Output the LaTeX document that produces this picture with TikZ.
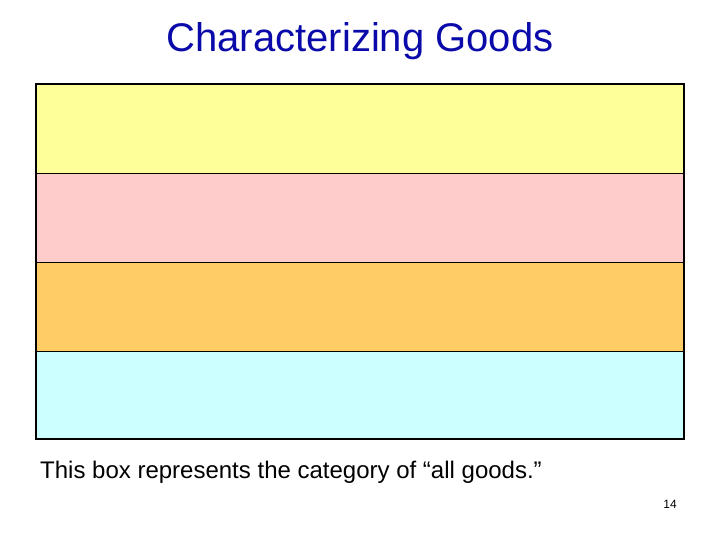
\documentclass[tikz,border=0pt]{standalone}
\usepackage{fontspec}
\setmainfont{Liberation Sans}
\definecolor{titleblue}{RGB}{10,10,170}
\definecolor{bandA}{RGB}{255,255,153}
\definecolor{bandB}{RGB}{255,204,204}
\definecolor{bandC}{RGB}{255,204,102}
\definecolor{bandD}{RGB}{204,255,255}
\begin{document}
\begin{tikzpicture}[x=1pt,y=-1pt,
  band/.style={draw=black,line width=0.8pt}]
\useasboundingbox (0,0) rectangle (720,540);
\fill[white] (0,0) rectangle (720,540);
\node[text=titleblue,font=\fontsize{40}{46}\selectfont,anchor=base,inner sep=0pt] (title) at (360,52) {Characterizing Goods};
\filldraw[band,fill=bandA] (36,84) rectangle (684,173);
\filldraw[band,fill=bandB] (36,173) rectangle (684,262);
\filldraw[band,fill=bandC] (36,262) rectangle (684,351);
\filldraw[band,fill=bandD] (36,351) rectangle (684,439);
\draw[line width=2pt] (36,84) rectangle (684,439);
\node[anchor=base west,font=\fontsize{24}{28}\selectfont,inner sep=0pt] (caption) at (40,478) {This box represents the category of “all goods.”};
\node[anchor=base east,font=\fontsize{12}{14}\selectfont,inner sep=0pt] (page) at (677,508) {14};
\end{tikzpicture}
\end{document}
